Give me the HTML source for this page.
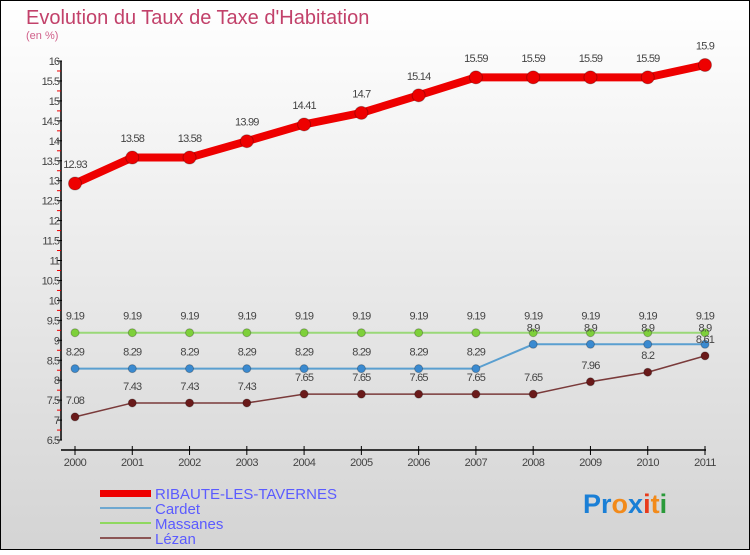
<!DOCTYPE html>
<html><head><meta charset="utf-8"><style>
body{margin:0}
#c{width:750px;height:550px;position:relative;font-family:"Liberation Sans",sans-serif}
</style></head><body>
<div id="c">
<svg id="s" width="750" height="550" xmlns="http://www.w3.org/2000/svg">
<defs><linearGradient id="bg" x1="0" y1="0" x2="0" y2="1"><stop offset="0" stop-color="#ffffff"/><stop offset="1" stop-color="#d4d4d4"/></linearGradient></defs>
<rect x="0.5" y="0.5" width="749" height="549" fill="url(#bg)" stroke="#000"/>
<text x="26" y="24" font-size="20" fill="#c2416a">Evolution du Taux de Taxe d'Habitation</text>
<text x="26" y="39" font-size="11" fill="#d0608a">(en %)</text>
<g id="axes"></g><g id="series"></g>
<g>
<rect x="100" y="490" width="51" height="7" fill="#e00"/>
<text x="155" y="499" font-size="15" fill="#5b5bff">RIBAUTE-LES-TAVERNES</text>
<line x1="100" y1="508" x2="151" y2="508" stroke="#6fa8d0" stroke-width="2"/>
<text x="155" y="514" font-size="15" fill="#5b5bff">Cardet</text>
<line x1="100" y1="523" x2="151" y2="523" stroke="#8fd860" stroke-width="2"/>
<text x="155" y="529" font-size="15" fill="#5b5bff">Massanes</text>
<line x1="100" y1="538" x2="151" y2="538" stroke="#8b5555" stroke-width="2"/>
<text x="155" y="544" font-size="15" fill="#5b5bff">Lézan</text>
</g>
<text x="583" y="513" font-size="27" font-weight="bold"><tspan fill="#1a7fd6">Pr</tspan><tspan fill="#f28a1a">o</tspan><tspan fill="#1a7fd6">x</tspan><tspan fill="#e83a1a">i</tspan><tspan fill="#f28a1a">t</tspan><tspan fill="#2a9a3a">i</tspan></text>
</svg></div>
<script>
const years=[2000,2001,2002,2003,2004,2005,2006,2007,2008,2009,2010,2011];
const ribaute=[12.93,13.58,13.58,13.99,14.41,14.7,15.14,15.59,15.59,15.59,15.59,15.9];
const cardet=[8.29,8.29,8.29,8.29,8.29,8.29,8.29,8.29,8.9,8.9,8.9,8.9];
const massanes=[9.19,9.19,9.19,9.19,9.19,9.19,9.19,9.19,9.19,9.19,9.19,9.19];
const lezan=[7.08,7.43,7.43,7.43,7.65,7.65,7.65,7.65,7.65,7.96,8.2,8.61];
const yTicks=[6.5,7,7.5,8,8.5,9,9.5,10,10.5,11,11.5,12,12.5,13,13.5,14,14.5,15,15.5,16];
const NS="http://www.w3.org/2000/svg";
const X=i=>75+i*(630/11);
const Y=v=>61+(16-v)*39.9;
function mk(t,a,p){const e=document.createElementNS(NS,t);for(const k in a)e.setAttribute(k,a[k]);p.appendChild(e);return e;}
const ax=document.getElementById('axes');
let l=mk('line',{x1:61,y1:61,x2:61,y2:440,stroke:'#000','stroke-width':1.5},ax);


l=mk('line',{x1:61,y1:450,x2:706,y2:450,stroke:'#000','stroke-width':1.5},ax);


yTicks.forEach((v,i)=>{
 mk('line',{x1:57,y1:Y(v),x2:62,y2:Y(v),stroke:'#000'},ax);
 if(i<yTicks.length-1){mk('line',{x1:57,y1:Y(v+0.25),x2:61,y2:Y(v+0.25),stroke:'#e00'},ax);}
 const t=mk('text',{x:59,y:Y(v)+4,'font-size':11,fill:'#444','text-anchor':'end','letter-spacing':'-1'},ax);
 t.textContent=String(v);
 
 
});
years.forEach((y,i)=>{
 mk('line',{x1:X(i),y1:446,x2:X(i),y2:455,stroke:'#000'},ax);
 const t=mk('text',{x:X(i),y:466,'font-size':11,fill:'#444','text-anchor':'middle','letter-spacing':'-0.5'},ax);
 t.textContent=String(y);
 
 
});
const sg=document.getElementById('series');
function series(vals,color,w,r,name,fill){
 const g=mk('g',{},sg);
 
 
 mk('polyline',{points:vals.map((v,i)=>X(i)+','+Y(v)).join(' '),fill:'none',stroke:color,'stroke-width':w,'stroke-linejoin':'round'},g);
 vals.forEach((v,i)=>{
  const c=mk('circle',{cx:X(i),cy:Y(v),r:r,fill:fill,stroke:'rgba(0,0,0,0.25)'},g);
  
  
  const t=mk('text',{x:X(i),y:Y(v)-r-9,'font-size':11,fill:'#444','text-anchor':'middle','letter-spacing':'-0.8'},g);
  t.textContent=String(v);
  
  
 });
}
series(massanes,'#9ad878',2,4,'massanes-line','#7ed03a');
series(cardet,'#5a9fd0',2,4,'cardet-line','#3a8ad0');
series(lezan,'#7a3a3a',1.5,4,'lezan-line','#6a1a1a');
series(ribaute,'#ee0000',8,6.5,'ribaute-line','#ee0000');
</script>
</body></html>
